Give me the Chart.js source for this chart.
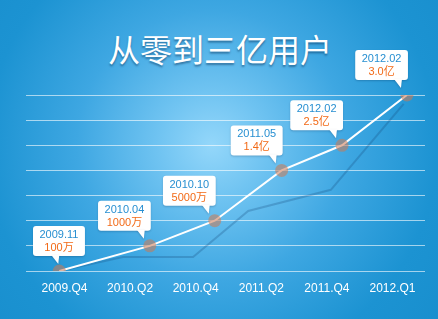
<!DOCTYPE html>
<html>
<head>
<meta charset="utf-8">
<script src="https://cdn.jsdelivr.net/npm/chart.js@4/dist/chart.umd.min.js"></script>
<style>
  html, body { margin: 0; padding: 0; }
  body {
    width: 438px; height: 319px; overflow: hidden; position: relative;
    background: radial-gradient(circle at 212px 145px, #94d7fa 0px, #6fc3f1 55px, #3ea7e2 135px, #1c93d2 225px, #168ccb 330px);
  }
  #title {
    position: absolute; left: 0; top: 25px; width: 440px; text-align: center;
    font: 32px "Noto Sans CJK SC", sans-serif; line-height: 46px; color: #fff;
    text-shadow: 0 2px 2px rgba(0, 40, 80, 0.45);
  }
  #wrap { position: absolute; left: 0; top: 0; width: 438px; height: 319px; }
</style>
</head>
<body>
<div id="title">从零到三亿用户</div>
<div id="wrap"><canvas id="chart"></canvas></div>
<script>
// quarters on the axis
const categories = ['2009.Q4', '2010.Q2', '2010.Q4', '2011.Q2', '2011.Q4', '2012.Q1'];

// milestones (x in axis-slot units, y in grid steps)
const pointX = [-0.08, 1.30, 2.29, 3.31, 4.23, 5.22];
const pointLevel = [0, 1, 2, 4, 5, 7];
const dates = ['2009.11', '2010.04', '2010.10', '2011.05', '2012.02', '2012.02'];
const amounts = ['100万', '1000万', '5000万', '1.4亿', '2.5亿', '3.0亿'];

// faint dark trace behind the main line
const shadowX = [-0.08, 0.89, 1.96, 2.80, 4.06, 5.17];
const shadowLevel = [0, 0.56, 0.56, 2.39, 3.23, 6.65];

const LATIN = '"Liberation Sans", "Noto Sans CJK SC", sans-serif';

function roundRect(ctx, x, y, w, h, r) {
  ctx.beginPath();
  ctx.moveTo(x + r, y);
  ctx.lineTo(x + w - r, y);
  ctx.quadraticCurveTo(x + w, y, x + w, y + r);
  ctx.lineTo(x + w, y + h - r);
  ctx.quadraticCurveTo(x + w, y + h, x + w - r, y + h);
  ctx.lineTo(x + r, y + h);
  ctx.quadraticCurveTo(x, y + h, x, y + h - r);
  ctx.lineTo(x, y + r);
  ctx.quadraticCurveTo(x, y, x + r, y);
  ctx.closePath();
}

const callouts = {
  id: 'callouts',
  afterDatasetsDraw(chart) {
    const ctx = chart.ctx;
    const meta = chart.getDatasetMeta(1);
    const left = chart.chartArea.left + 7;
    ctx.save();
    ctx.font = '11px ' + LATIN;
    meta.data.forEach((pt, i) => {
      const w = Math.max(ctx.measureText(dates[i]).width, ctx.measureText(amounts[i]).width) + 13;
      const h = 30;
      let bx = pt.x + 1 - w;
      if (bx < left) bx = left;
      const by = pt.y - 15 - h;
      const tx = Math.min(pt.x - 2, bx + w - 8);
      ctx.save();
      ctx.shadowColor = 'rgba(0,40,80,0.25)';
      ctx.shadowBlur = 2;
      ctx.shadowOffsetY = 1;
      ctx.fillStyle = '#fff';
      roundRect(ctx, bx, by, w, h, 3);
      ctx.fill();
      ctx.beginPath();
      ctx.moveTo(tx - 6, by + h - 1);
      ctx.lineTo(tx + 2, by + h - 1);
      ctx.lineTo(tx + 1, by + h + 8);
      ctx.closePath();
      ctx.fill();
      ctx.restore();
      ctx.textAlign = 'center';
      ctx.textBaseline = 'middle';
      ctx.fillStyle = '#278fd1';
      ctx.fillText(dates[i], bx + w / 2, by + 9);
      ctx.fillStyle = '#f26a17';
      ctx.fillText(amounts[i], bx + w / 2, by + 22);
    });
    ctx.restore();
  }
};

new Chart(document.getElementById('chart'), {
  type: 'line',
  data: {
    datasets: [{
      data: shadowX.map((x, i) => ({ x: x, y: shadowLevel[i] })),
      borderColor: 'rgba(20, 70, 120, 0.26)',
      borderWidth: 2,
      pointRadius: 0,
      order: 2
    }, {
      data: pointX.map((x, i) => ({ x: x, y: pointLevel[i] })),
      borderColor: '#ffffff',
      borderWidth: 2,
      pointRadius: 6.5,
      pointBorderWidth: 0,
      pointBackgroundColor: 'rgba(205, 120, 80, 0.55)',
      order: 1
    }]
  },
  options: {
    responsive: true,
    maintainAspectRatio: false,
    animation: false,
    events: [],
    layout: { padding: { left: 26, right: 13, top: 95, bottom: 13.6 } },
    plugins: { legend: { display: false }, tooltip: { enabled: false } },
    scales: {
      x: {
        type: 'linear',
        min: -0.587,
        max: 5.495,
        afterBuildTicks: (scale) => { scale.ticks = categories.map((c, i) => ({ value: i })); },
        ticks: {
          autoSkip: false,
          padding: 10,
          color: '#ffffff',
          font: { size: 12, family: LATIN },
          callback: (v) => categories[v]
        },
        grid: { display: false, drawTicks: false },
        border: { display: false }
      },
      y: {
        min: 0,
        max: 7,
        ticks: { display: false, stepSize: 1 },
        grid: { color: 'rgba(255,255,255,0.6)', lineWidth: 1, drawTicks: false },
        border: { display: false },
        afterFit: (scale) => { scale.width = 0; }
      }
    }
  },
  plugins: [callouts]
});
</script>
</body>
</html>
